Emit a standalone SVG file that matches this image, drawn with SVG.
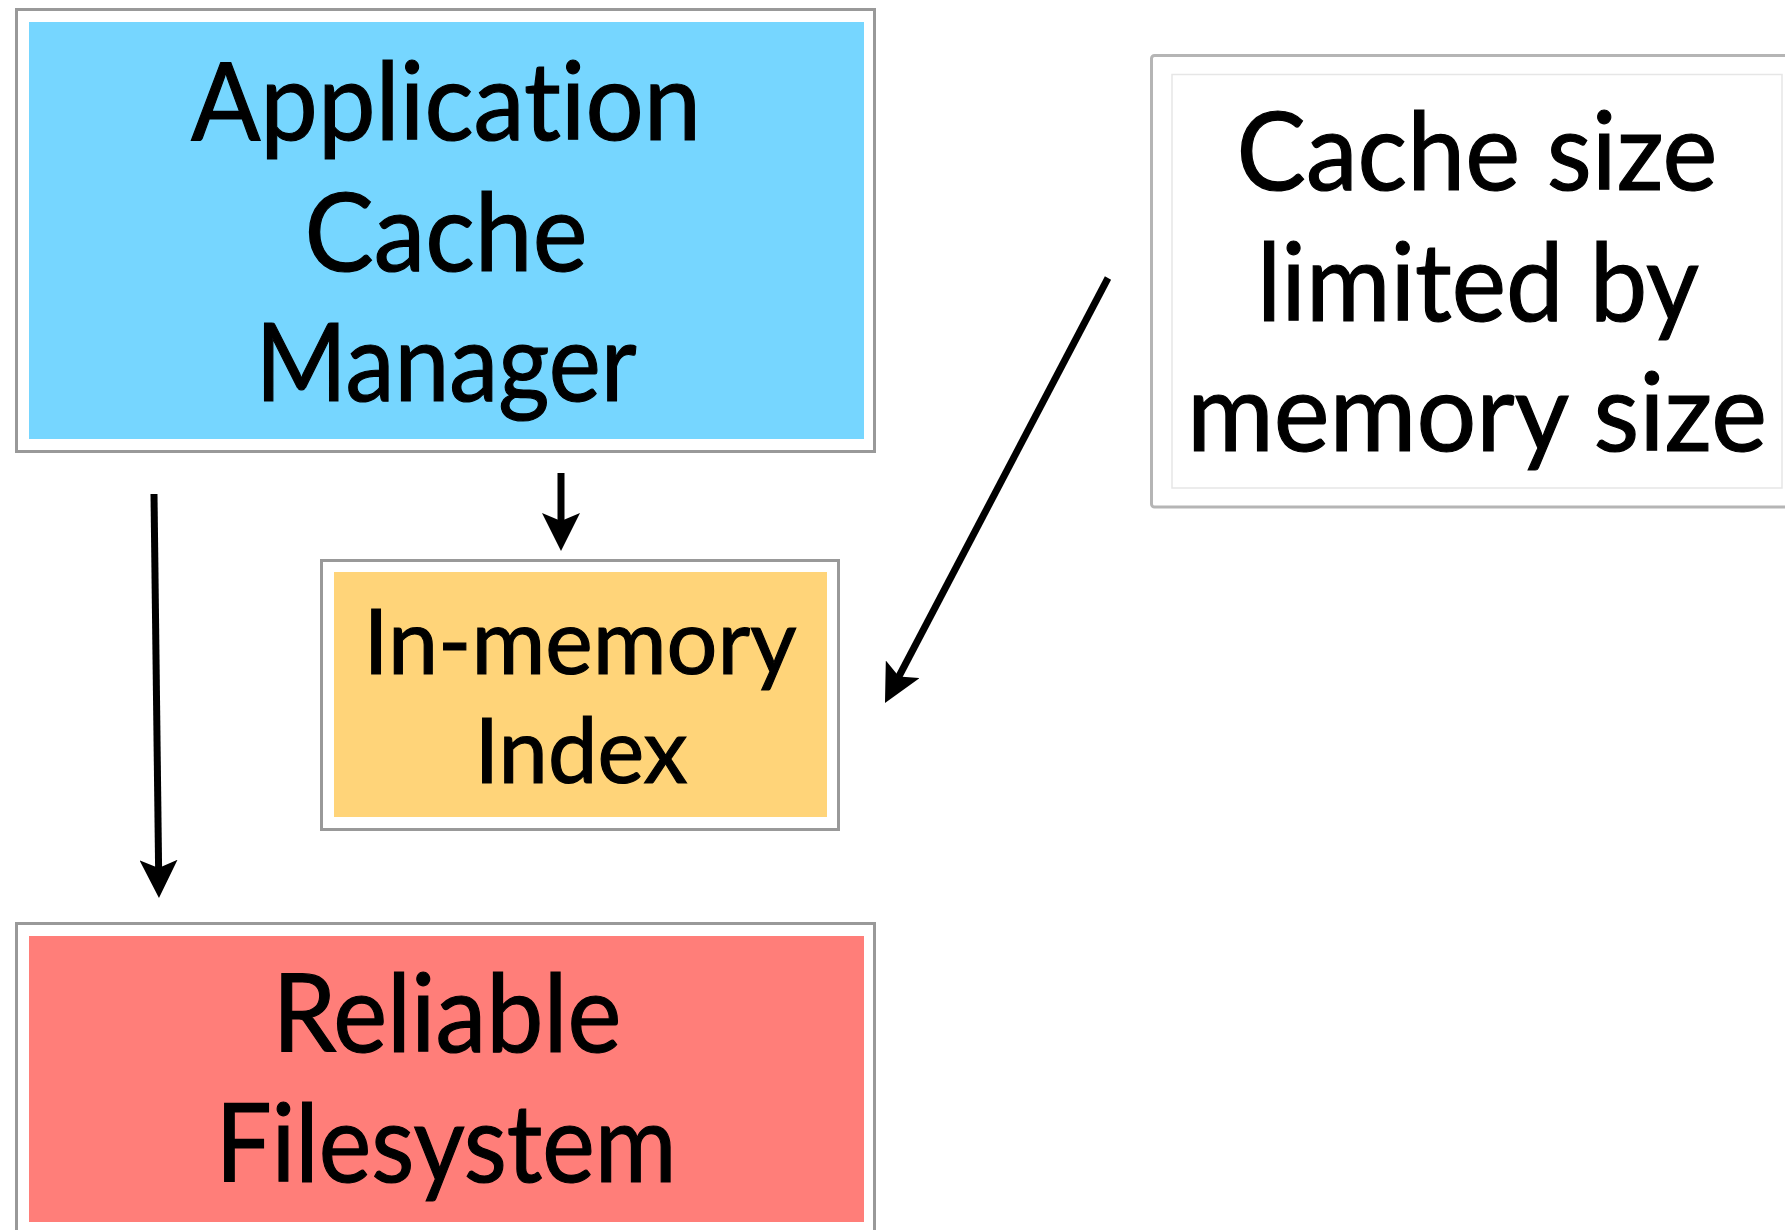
<svg xmlns="http://www.w3.org/2000/svg" width="1785" height="1230" viewBox="0 0 1785 1230">
<style>
  .frame { fill: #ffffff; stroke: #999999; stroke-width: 3; }
  .label { font-family: Lato, "Liberation Sans", sans-serif; fill: #000000; stroke: #000000; stroke-width: 1.2; text-anchor: middle; font-variant-ligatures: none; font-feature-settings: "liga" 0, "dlig" 0; }
  .big { font-size: 108px; }
  .mid { font-size: 92px; }
  .conn { stroke: #000000; stroke-width: 7; fill: none; marker-end: url(#arrow); }
</style>
<defs>
  <marker id="arrow" markerUnits="userSpaceOnUse" viewBox="0 -19 38 38" refX="16" refY="0" markerWidth="38" markerHeight="38" orient="auto">
    <path d="M0,-19 L38,0 L0,19 L8,0 Z" fill="#000000"/>
  </marker>
</defs>
<rect width="1785" height="1230" fill="#ffffff"/>

<g id="app-cache-manager">
  <rect class="frame" x="16.5" y="9.5" width="858" height="442"/>
  <rect x="29" y="22" width="835" height="417" fill="#76D6FF"/>
  <text class="label big" x="446" y="140" textLength="510" lengthAdjust="spacingAndGlyphs">Application</text>
  <text class="label big" x="446" y="271" textLength="283" lengthAdjust="spacingAndGlyphs">Cache</text>
  <text class="label big" x="446" y="401" textLength="381" lengthAdjust="spacingAndGlyphs">Manager</text>
</g>

<g id="cache-size-note">
  <rect x="1151.5" y="55.5" width="660" height="451.5" rx="3" fill="#ffffff" stroke="#b5b5b5" stroke-width="3"/>
  <rect x="1172" y="74.5" width="610" height="413.5" fill="none" stroke="#e6e6e6" stroke-width="1.5"/>
  <text class="label big" x="1477" y="190" textLength="481" lengthAdjust="spacingAndGlyphs">Cache size</text>
  <text class="label big" x="1478" y="321" textLength="442" lengthAdjust="spacingAndGlyphs">limited by</text>
  <text class="label big" x="1477" y="451" textLength="580" lengthAdjust="spacingAndGlyphs">memory size</text>
</g>

<g id="in-memory-index">
  <rect class="frame" x="321.5" y="560.5" width="517" height="269"/>
  <rect x="334" y="572" width="493" height="245" fill="#FFD479"/>
  <text class="label mid" x="580" y="674" textLength="433" lengthAdjust="spacingAndGlyphs">In-memory</text>
  <text class="label mid" x="581" y="783" textLength="213" lengthAdjust="spacingAndGlyphs">Index</text>
</g>

<g id="reliable-filesystem">
  <rect class="frame" x="16.5" y="923.5" width="858" height="320"/>
  <rect x="29" y="936" width="835" height="286" fill="#FF7E79"/>
  <text class="label big" x="447" y="1052" textLength="349" lengthAdjust="spacingAndGlyphs">Reliable</text>
  <text class="label big" x="446" y="1182" textLength="461" lengthAdjust="spacingAndGlyphs">Filesystem</text>
</g>

<g id="connectors">
  <line class="conn" x1="154" y1="494" x2="158.7" y2="876"/>
  <line class="conn" x1="561" y1="473" x2="561" y2="529"/>
  <line class="conn" x1="1108" y1="278" x2="895.2" y2="683.5"/>
</g>
</svg>
